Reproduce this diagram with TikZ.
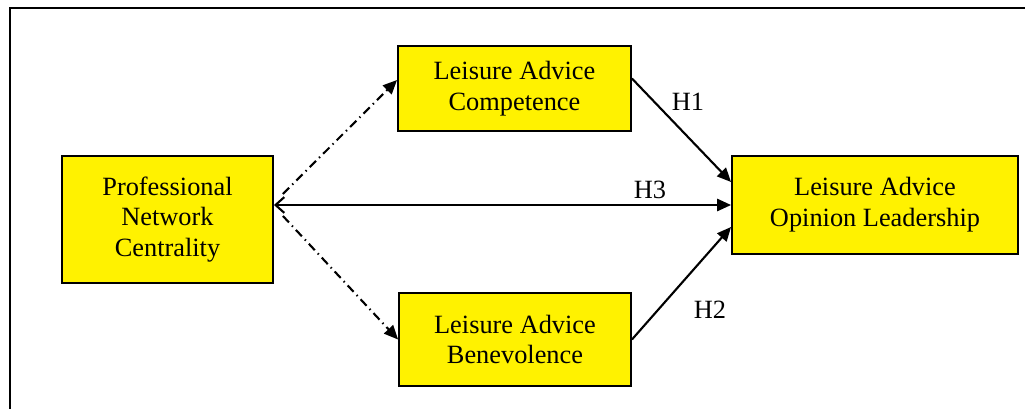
\documentclass[tikz,border=0pt]{standalone}
\usepackage{fontspec}
\setmainfont{Liberation Serif}
\usepackage{tikz}
\usetikzlibrary{arrows.meta}

\tikzset{
  construct/.style={draw, line width=1.1pt, fill=yellow, align=center, inner sep=0pt,
    font=\fontsize{15}{17.6}\selectfont},
  hpath/.style={line width=1.2pt, -{Triangle[length=8pt,width=7pt]}},
  dashdot/.style={line width=1.2pt, dash pattern=on 5pt off 2.5pt on 0.8pt off 2.5pt,
    -{Triangle[length=8pt,width=7pt]}},
  hyp/.style={font=\fontsize{15}{17.6}\selectfont, inner sep=0pt}
}

\begin{document}
\begin{tikzpicture}[x=0.02cm,y=-0.02cm]
\useasboundingbox (0,0) rectangle (1025,409);
% frame
\draw[line width=1.7pt] (10,409) -- (10,8) -- (1025,8);
% constructs
\node[construct, minimum width=4.22cm, minimum height=2.54cm] (prof) at (167.5,219.5) {Professional\\Network\\Centrality};
\node[construct, minimum width=4.66cm, minimum height=1.70cm] (comp) at (514.5,88.5) {Leisure Advice\\Competence};
\node[construct, minimum width=4.64cm, minimum height=1.86cm] (bene) at (515,339.5) {Leisure Advice\\Benevolence};
\node[construct, minimum width=5.72cm, minimum height=1.96cm] (opin) at (875,205) {Leisure Advice\\Opinion Leadership};
% hub on the right side of prof
\coordinate (hub) at (prof.east |- opin.west);
% paths
\draw[dashdot] ([shift={(0.18cm,0.22cm)}]hub) -- ([yshift=0.17cm]comp.west);
\draw[dashdot] ([shift={(0.18cm,-0.22cm)}]hub) -- (bene.west);
\draw[hpath, {Straight Barb[length=5pt,width=9pt]}-{Triangle[length=8pt,width=7pt]}] (hub) -- (opin.west);
\draw[hpath] ([yshift=0.2cm]comp.east) -- ([yshift=0.46cm]opin.west);
\draw[hpath] (bene.east) -- ([yshift=-0.44cm]opin.west);
% labels
\node[hyp] (h1) at (688,102) {H1};
\node[hyp] (h3) at (650,190) {H3};
\node[hyp] (h2) at (710,310) {H2};
\end{tikzpicture}
\end{document}
